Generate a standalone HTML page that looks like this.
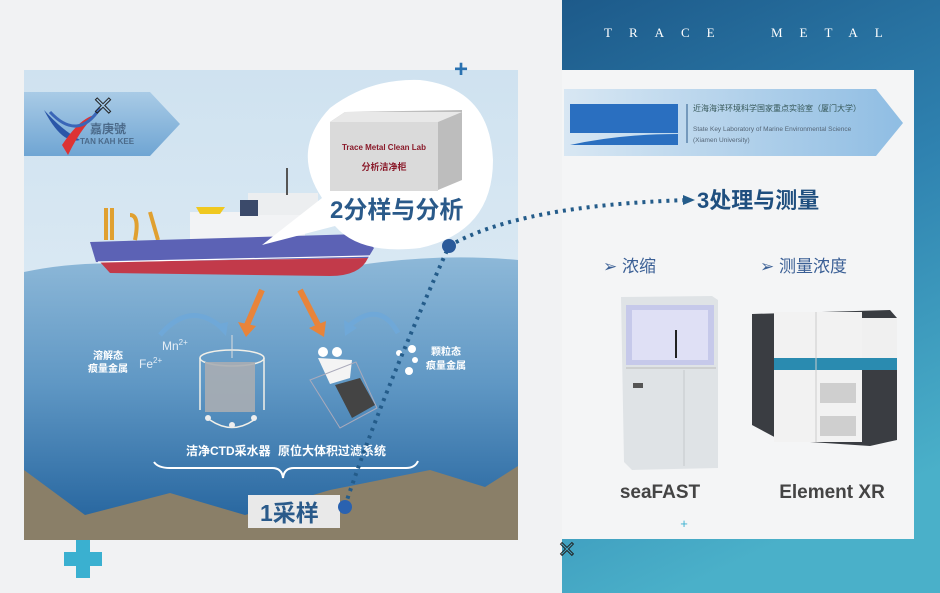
<!DOCTYPE html>
<html><head><meta charset="utf-8">
<style>
html,body{margin:0;padding:0;width:940px;height:593px;overflow:hidden;background:#f1f2f3}
svg{display:block}
text{font-family:"Liberation Sans","Noto Sans CJK SC",sans-serif}
</style></head>
<body>
<svg width="940" height="593" viewBox="0 0 940 593" xmlns="http://www.w3.org/2000/svg">
<defs>
<linearGradient id="rbg" x1="0" y1="0" x2="0.3" y2="1">
<stop offset="0" stop-color="#1d5a8a"/><stop offset="0.5" stop-color="#2f82b0"/><stop offset="1" stop-color="#4ab0c9"/></linearGradient>
<linearGradient id="sky" x1="0" y1="0" x2="0" y2="1">
<stop offset="0" stop-color="#cfe2f0"/><stop offset="1" stop-color="#e6f0f7"/></linearGradient>
<linearGradient id="sea" x1="0" y1="0" x2="0" y2="1">
<stop offset="0" stop-color="#8db8d8"/><stop offset="0.45" stop-color="#5f97c4"/><stop offset="1" stop-color="#1f5f9a"/></linearGradient>
<linearGradient id="ban" x1="0" y1="0" x2="0" y2="1">
<stop offset="0" stop-color="#a9cbe6"/><stop offset="1" stop-color="#6fa5d3"/></linearGradient>
<linearGradient id="ban2" x1="0" y1="0" x2="1" y2="0">
<stop offset="0" stop-color="#d8e7f3"/><stop offset="1" stop-color="#8fbde3"/></linearGradient>
</defs>

<rect x="562" y="0" width="378" height="593" fill="url(#rbg)"/>
<text x="604" y="37" fill="#fff" font-size="13" letter-spacing="17" style="font-family:'Liberation Serif',serif">TRACE</text>
<text x="771" y="37" fill="#fff" font-size="13" letter-spacing="17" style="font-family:'Liberation Serif',serif">METAL</text>

<rect x="562" y="70" width="352" height="469" fill="#f4f5f6"/>
<path d="M564 89 H876 L903 123 L876 156 H564 Z" fill="url(#ban2)"/>
<rect x="570" y="104" width="108" height="29" fill="#2a6fc0"/>
<path d="M570 145 Q620 134 678 134 V145 Z" fill="#2a6fc0"/>
<line x1="687" y1="104" x2="687" y2="143" stroke="#2a5a8a" stroke-width="1"/>
<text x="693" y="111" font-size="8" fill="#355">近海海洋环境科学国家重点实验室（厦门大学）</text>
<text x="693" y="131" font-size="6.5" fill="#567">State Key Laboratory of Marine Environmental Science</text>
<text x="693" y="142" font-size="6.5" fill="#567">(Xiamen University)</text>

<text x="697" y="208" font-size="22" font-weight="bold" fill="#1f4f7f">3处理与测量</text>
<text x="603" y="272" font-size="17" fill="#3a5f95">➢ 浓缩</text>
<text x="760" y="272" font-size="17" fill="#3a5f95">➢ 测量浓度</text>

<path d="M621 297 L712 296 L718 300 L718 468 L632 470 L624 462 Z" fill="#dfe3e6"/>
<rect x="626" y="305" width="88" height="60" fill="#c6c9ea"/>
<rect x="632" y="310" width="76" height="50" fill="#dfe0f5"/>
<line x1="676" y1="330" x2="676" y2="358" stroke="#222" stroke-width="2"/>
<line x1="626" y1="368" x2="716" y2="368" stroke="#bbb"/>
<line x1="684" y1="370" x2="684" y2="466" stroke="#c4c8cc"/>
<rect x="633" y="383" width="10" height="5" fill="#555"/>
<text x="660" y="498" text-anchor="middle" font-size="19" font-weight="bold" fill="#444">seaFAST</text>

<path d="M752 314 L890 310 L897 318 L897 440 L870 446 L780 440 L752 425 Z" fill="#3a3d42"/>
<rect x="774" y="312" width="88" height="130" fill="#f2f2f2"/>
<rect x="862" y="318" width="35" height="40" fill="#f0f0f0"/>
<rect x="774" y="358" width="123" height="12" fill="#2a8bb0"/>
<line x1="816" y1="312" x2="816" y2="442" stroke="#ccc"/>
<rect x="820" y="383" width="36" height="20" fill="#cfcfcf"/>
<rect x="820" y="416" width="36" height="20" fill="#cfcfcf"/>
<text x="832" y="498" text-anchor="middle" font-size="19" font-weight="bold" fill="#444">Element XR</text>
<text x="684" y="528" text-anchor="middle" font-size="13" fill="#3ab0d0">+</text>

<rect x="24" y="70" width="494" height="470" fill="url(#sky)"/>
<path d="M24 272 Q90 258 160 267 Q260 282 360 265 Q440 253 518 260 V540 H24 Z" fill="url(#sea)"/>
<path d="M24 470 L85 515 L170 493 L245 515 L330 490 L430 470 L485 487 L518 466 V540 H24 Z" fill="#8a7f68"/>

<path d="M24 92 H150 L180 124 L150 156 H24 Z" fill="url(#ban)"/>
<path d="M44 110 Q62 145 80 140 Q62 130 44 110 Z" fill="#2a56a8"/>
<path d="M62 145 Q80 118 95 115 Q80 130 68 155 Z" fill="#d33"/>
<path d="M50 112 Q78 142 100 108" fill="none" stroke="#3a66b8" stroke-width="3"/>
<text x="90" y="133" font-size="12" font-weight="bold" fill="#4b6a8a">嘉庚號</text>
<text x="80" y="144" font-size="8" font-weight="bold" fill="#4b6a8a">TAN KAH KEE</text>
<text x="103" y="115" text-anchor="middle" font-size="26" fill="none" stroke="#222" stroke-width="1">✕</text>

<rect x="190" y="212" width="115" height="28" fill="#f2f3f5"/>
<rect x="248" y="193" width="70" height="22" fill="#eceef0"/>
<rect x="240" y="200" width="18" height="16" fill="#3b4a6a"/>
<line x1="287" y1="168" x2="287" y2="195" stroke="#555" stroke-width="2"/>
<path d="M196 207 H225 L220 214 H200 Z" fill="#f0c820"/>
<path d="M106 208 V240 M112 208 V240 M130 215 Q140 215 135 240 M150 212 L158 240" stroke="#e0a030" stroke-width="4" fill="none"/>
<path d="M90 242 L360 234 L374 248 L368 258 L96 262 Z" fill="#5c62b5"/>
<path d="M100 262 L368 258 Q360 276 330 276 L110 273 Z" fill="#c23a4a"/>
<path d="M98 262 L370 256" stroke="#fff" stroke-width="1.2"/>

<path d="M262 245 L322 198 Q290 150 330 108 Q370 78 420 80 Q490 88 493 160 Q493 232 420 248 Q360 255 335 226 Z" fill="#ffffff"/>
<path d="M330 122 L345 112 L462 110 L462 180 L438 190 H330 Z" fill="#bdbdbd"/>
<rect x="330" y="122" width="108" height="69" fill="#dadada"/>
<path d="M330 122 L345 112 H462 L438 122 Z" fill="#e8e8e8"/>
<text x="384" y="150" text-anchor="middle" font-size="8" font-weight="bold" fill="#8a1a2a">Trace Metal Clean Lab</text>
<text x="384" y="170" text-anchor="middle" font-size="9" font-weight="bold" fill="#8a1a2a">分析洁净柜</text>
<text x="330" y="218" font-size="24" font-weight="bold" fill="#2a5a8a">2分样与分析</text>

<path d="M262 290 L247 325" stroke="#e8843a" stroke-width="6"/>
<path d="M238 322 L246 337 L256 326 Z" fill="#e8843a"/>
<path d="M300 290 L318 325" stroke="#e8843a" stroke-width="6"/>
<path d="M309 328 L324 337 L326 321 Z" fill="#e8843a"/>
<path d="M160 335 Q190 300 222 328" stroke="#6fa8d8" stroke-width="5" fill="none"/>
<path d="M215 325 L226 336 L228 322 Z" fill="#6fa8d8"/>
<path d="M398 333 Q380 300 350 325" stroke="#6fa8d8" stroke-width="5" fill="none"/>
<path d="M344 320 L345 336 L357 328 Z" fill="#6fa8d8"/>

<ellipse cx="232" cy="358" rx="32" ry="8" fill="none" stroke="#f2f0e8" stroke-width="1.5"/>
<rect x="205" y="362" width="50" height="50" fill="#a8adb2" opacity="0.9"/>
<path d="M200 358 V410 M264 358 V410 M210 420 Q232 435 254 420" stroke="#f2f0e8" stroke-width="1.5" fill="none"/>
<line x1="232" y1="335" x2="232" y2="358" stroke="#ddd"/>
<circle cx="208" cy="418" r="3" fill="#eee"/><circle cx="254" cy="418" r="3" fill="#eee"/><circle cx="232" cy="425" r="3" fill="#eee"/>
<path d="M318 358 L352 360 L350 378 L330 384 Z" fill="#f4f4f4"/>
<path d="M335 385 L360 378 L375 405 L352 418 Z" fill="#444"/>
<path d="M310 380 L356 362 L377 408 L340 428 Z" fill="none" stroke="#aab" stroke-width="1"/>
<circle cx="323" cy="352" r="5" fill="#fff"/><circle cx="337" cy="352" r="5" fill="#fff"/>

<circle cx="399" cy="353" r="3" fill="#fff"/><circle cx="412" cy="349" r="4" fill="#fff"/><circle cx="415" cy="360" r="3" fill="#fff"/><circle cx="409" cy="371" r="4" fill="#fff"/>

<text x="108" y="359" text-anchor="middle" font-size="10" font-weight="bold" fill="#fff">溶解态</text>
<text x="108" y="372" text-anchor="middle" font-size="10" font-weight="bold" fill="#fff">痕量金属</text>
<text x="162" y="350" font-size="12" fill="#e6eef6">Mn<tspan font-size="8" dy="-5">2+</tspan></text>
<text x="139" y="368" font-size="12" fill="#e6eef6">Fe<tspan font-size="8" dy="-5">2+</tspan></text>
<text x="446" y="355" text-anchor="middle" font-size="10" font-weight="bold" fill="#fff">颗粒态</text>
<text x="446" y="369" text-anchor="middle" font-size="10" font-weight="bold" fill="#fff">痕量金属</text>
<text x="186" y="455" font-size="12" font-weight="bold" fill="#fff">洁净CTD采水器</text>
<text x="278" y="455" font-size="12" font-weight="bold" fill="#fff">原位大体积过滤系统</text>
<path d="M154 462 Q158 468 170 468 H272 Q282 468 283 478 Q284 468 294 468 H406 Q415 468 418 461" stroke="#fff" stroke-width="2" fill="none"/>

<rect x="248" y="495" width="92" height="33" fill="#e9e9e9"/>
<text x="260" y="521" font-size="23" font-weight="bold" fill="#2a5a8a">1采样</text>

<path d="M345 506 Q380 400 449 246 Q520 205 690 200" stroke="#245c8a" stroke-width="4" stroke-dasharray="3 5" fill="none"/>
<path d="M683 195 L695 200 L683 205 Z" fill="#245c8a"/>
<circle cx="345" cy="507" r="7" fill="#2a62b0"/>
<circle cx="449" cy="246" r="7" fill="#2a5a9a"/>

<text x="461" y="77" text-anchor="middle" font-size="24" font-weight="bold" fill="#2a72b0">+</text>
<path d="M76 540 H90 V552 H102 V566 H90 V578 H76 V566 H64 V552 H76 Z" fill="#3ab0d0"/>
<text x="567" y="557" text-anchor="middle" font-size="22" fill="none" stroke="#222" stroke-width="1">✕</text>
</svg>
</body></html>
